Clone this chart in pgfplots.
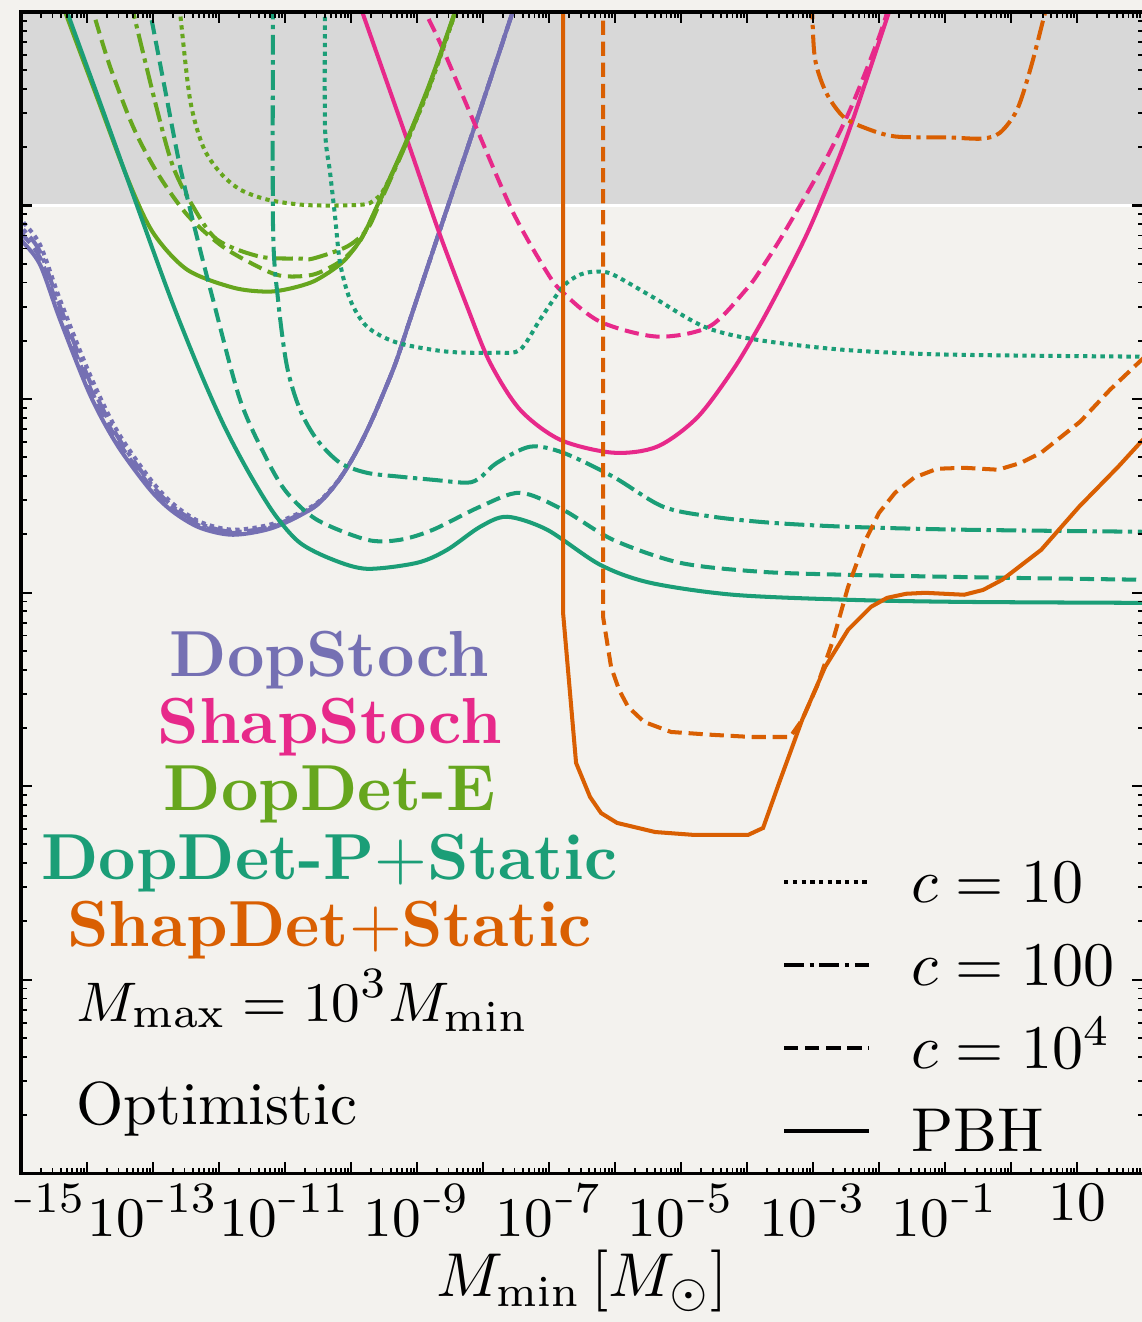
\documentclass[border=0pt]{standalone}
\usepackage{graphicx}
\usepackage{pgfplots}
\pgfplotsset{compat=1.18}
\usepackage{pgfplotstable}
\usetikzlibrary{backgrounds}

\definecolor{cpurple}{HTML}{7570B3}
\definecolor{cpink}{HTML}{E7298A}
\definecolor{cgreen}{HTML}{66A61E}
\definecolor{cteal}{HTML}{1B9E77}
\definecolor{corange}{HTML}{D95F02}
\definecolor{bgpaper}{HTML}{F3F2EE}
\definecolor{band}{HTML}{D8D8D8}

% narrow minus for the exponent of the tick labels
\newcommand{\nm}{\mathord{\scalebox{0.55}[1]{$\scriptstyle-$}}}

\tikzset{
  pbh/.style={solid},
  cten/.style={dash pattern=on 0.7pt off 0.7pt},
  chun/.style={dash pattern=on 3.2pt off 0.9pt on 0.7pt off 0.9pt},
  cfour/.style={dash pattern=on 2.3pt off 1.1pt},
}

% all tables: lx = log10(M_min), ly = log10(bound)
% DopStoch
\pgfplotstableread[row sep=\\]{
lx ly\\
-15.2 -0.086\\ -15.000 -0.176\\ -14.712 -0.305\\ -14.409 -0.589\\ -13.955 -0.977\\
-13.545 -1.236\\ -13.045 -1.468\\ -12.697 -1.582\\ -12.288 -1.665\\ -11.788 -1.701\\
-11.182 -1.665\\ -10.576 -1.562\\ -10.273 -1.458\\ -10.061 -1.355\\ -9.864 -1.236\\
-9.682 -1.107\\ -9.500 -0.962\\ -9.318 -0.807\\ -9.106 -0.589\\ -8.682 -0.155\\
-8.091 0.445\\ -7.439 1.117\\
}\tPurA
\pgfplotstableread[row sep=\\]{
lx ly\\
-15.2 -0.050\\ -15.000 -0.140\\ -14.712 -0.269\\ -14.409 -0.553\\ -13.955 -0.941\\
-13.545 -1.210\\ -13.045 -1.448\\ -12.697 -1.567\\ -12.288 -1.655\\ -11.788 -1.691\\
-11.182 -1.660\\ -10.576 -1.562\\ -10.273 -1.458\\ -10.061 -1.355\\ -9.864 -1.236\\
-9.682 -1.107\\ -9.500 -0.962\\ -9.318 -0.807\\ -9.106 -0.589\\ -8.682 -0.155\\
-8.091 0.445\\ -7.439 1.117\\
}\tPurB
\pgfplotstableread[row sep=\\]{
lx ly\\
-15.2 -0.020\\ -15.000 -0.109\\ -14.712 -0.238\\ -14.409 -0.522\\ -13.955 -0.910\\
-13.545 -1.189\\ -13.045 -1.432\\ -12.697 -1.556\\ -12.288 -1.644\\ -11.788 -1.686\\
-11.182 -1.655\\ -10.576 -1.556\\ -10.273 -1.458\\ -10.061 -1.355\\ -9.864 -1.236\\
-9.682 -1.107\\ -9.500 -0.962\\ -9.318 -0.807\\ -9.106 -0.589\\ -8.682 -0.155\\
-8.091 0.445\\ -7.439 1.117\\
}\tPurC
\pgfplotstableread[row sep=\\]{
lx ly\\
-15.2 0.020\\ -15.000 -0.072\\ -14.712 -0.202\\ -14.409 -0.486\\ -13.955 -0.874\\
-13.545 -1.163\\ -13.045 -1.412\\ -12.697 -1.541\\ -12.288 -1.634\\ -11.788 -1.675\\
-11.182 -1.644\\ -10.576 -1.551\\ -10.273 -1.453\\ -10.061 -1.355\\ -9.864 -1.236\\
-9.682 -1.107\\ -9.500 -0.962\\ -9.318 -0.807\\ -9.106 -0.589\\ -8.682 -0.155\\
-8.091 0.445\\ -7.439 1.117\\
}\tPurD
% ShapStoch
\pgfplotstableread[row sep=\\]{
lx ly\\
-9.894 1.065\\ -9.833 1.003\\ -9.152 0.341\\ -8.682 -0.124\\ -8.242 -0.522\\
-7.894 -0.812\\ -7.439 -1.055\\ -6.833 -1.210\\ -6.030 -1.277\\ -5.364 -1.246\\
-4.758 -1.096\\ -4.212 -0.848\\ -3.803 -0.615\\ -3.439 -0.383\\ -3.076 -0.134\\
-2.742 0.134\\ -2.439 0.403\\ -1.848 1.003\\ -1.788 1.075\\
}\tPinA
\pgfplotstableread[row sep=\\]{
lx ly\\
-8.939 1.065\\ -8.879 1.003\\ -8.606 0.807\\ -8.091 0.393\\ -7.545 -0.036\\
-7.030 -0.346\\ -6.788 -0.450\\ -6.227 -0.600\\ -5.364 -0.677\\ -4.576 -0.626\\
-4.015 -0.434\\ -3.773 -0.321\\ -3.439 -0.140\\ -2.864 0.202\\ -2.439 0.496\\
-2.015 0.858\\ -1.833 1.050\\ -1.800 1.100\\
}\tPinB
% DopDet-E
\pgfplotstableread[row sep=\\]{
lx ly\\
-14.379 1.065\\ -14.333 1.003\\ -13.864 0.574\\ -13.379 0.134\\ -13.000 -0.140\\
-12.485 -0.331\\ -11.788 -0.424\\ -11.273 -0.445\\ -10.924 -0.429\\ -10.576 -0.393\\
-10.273 -0.331\\ -10.061 -0.269\\ -9.818 -0.155\\ -9.561 0.031\\ -9.152 0.341\\
-8.803 0.636\\ -8.424 1.003\\ -8.364 1.065\\
}\tGrnA
\pgfplotstableread[row sep=\\]{
lx ly\\
-13.955 1.065\\ -13.909 1.003\\ -13.652 0.719\\ -13.303 0.408\\ -12.939 0.171\\
-12.485 -0.047\\ -11.985 -0.202\\ -11.530 -0.295\\ -11.076 -0.362\\ -10.576 -0.357\\
-10.167 -0.290\\ -9.939 -0.217\\ -9.818 -0.155\\ -9.561 0.026\\ -9.152 0.336\\
-8.803 0.631\\ -8.424 0.998\\ -8.364 1.065\\
}\tGrnB
\pgfplotstableread[row sep=\\]{
lx ly\\
-13.348 1.065\\ -13.303 1.003\\ -12.939 0.496\\ -12.697 0.202\\ -12.394 -0.005\\
-12.030 -0.176\\ -11.379 -0.264\\ -10.773 -0.274\\ -10.576 -0.274\\ -10.061 -0.212\\
-9.758 -0.124\\ -9.561 0.016\\ -9.152 0.331\\ -8.803 0.626\\ -8.424 0.998\\
-8.364 1.065\\
}\tGrnC
\pgfplotstableread[row sep=\\]{
lx ly\\
-12.621 1.065\\ -12.591 0.998\\ -12.439 0.548\\ -12.242 0.305\\ -11.985 0.171\\
-11.682 0.083\\ -11.273 0.031\\ -10.773 0.005\\ -10.318 0.000\\ -9.818 0.005\\
-9.652 0.026\\ -9.485 0.093\\ -9.152 0.331\\ -8.803 0.620\\ -8.424 0.993\\
-8.364 1.065\\
}\tGrnD
% DopDet-P+Static
\pgfplotstableread[row sep=\\]{
lx ly\\
-14.348 1.065\\ -14.303 1.003\\ -13.803 0.533\\ -13.303 0.057\\ -12.742 -0.471\\
-12.288 -0.858\\ -11.909 -1.148\\ -11.530 -1.391\\ -11.152 -1.598\\ -10.773 -1.743\\
-10.273 -1.830\\ -9.758 -1.877\\ -9.000 -1.846\\ -8.545 -1.779\\ -8.045 -1.660\\
-7.636 -1.608\\ -7.030 -1.675\\ -6.227 -1.856\\ -5.470 -1.949\\ -4.212 -2.011\\
-2.470 -2.037\\ -0.712 -2.048\\ 2.106 -2.053\\
}\tTelA
\pgfplotstableread[row sep=\\]{
lx ly\\
-13.076 1.065\\ -13.045 1.003\\ -12.818 0.600\\ -12.591 0.202\\ -12.333 -0.165\\
-12.091 -0.486\\ -11.682 -1.003\\ -11.273 -1.313\\ -10.970 -1.484\\ -10.515 -1.624\\
-9.758 -1.727\\ -9.258 -1.727\\ -8.758 -1.675\\ -8.045 -1.556\\ -7.439 -1.484\\
-6.788 -1.572\\ -6.030 -1.727\\ -5.015 -1.846\\ -3.803 -1.892\\ -2.470 -1.908\\
-0.136 -1.923\\ 2.106 -1.934\\
}\tTelB
\pgfplotstableread[row sep=\\]{
lx ly\\
-11.182 1.065\\ -11.182 -0.109\\ -11.106 -0.486\\ -10.970 -0.832\\ -10.773 -1.055\\
-10.515 -1.210\\ -10.167 -1.329\\ -9.758 -1.381\\ -9.258 -1.401\\ -8.758 -1.417\\
-8.242 -1.432\\ -8.045 -1.406\\ -7.788 -1.329\\ -7.288 -1.246\\ -6.788 -1.277\\
-6.030 -1.401\\ -5.273 -1.556\\ -4.515 -1.608\\ -3.636 -1.639\\ -2.470 -1.660\\
-0.712 -1.675\\ 2.106 -1.686\\
}\tTelC
\pgfplotstableread[row sep=\\]{
lx ly\\
-10.394 1.065\\ -10.394 0.403\\ -10.318 0.171\\ -10.242 -0.057\\ -10.167 -0.295\\
-10.015 -0.486\\ -9.758 -0.626\\ -9.303 -0.708\\ -8.545 -0.755\\ -7.788 -0.760\\
-7.439 -0.745\\ -7.136 -0.589\\ -6.788 -0.419\\ -6.530 -0.357\\ -6.273 -0.341\\
-6.030 -0.357\\ -5.439 -0.471\\ -4.652 -0.626\\ -3.864 -0.693\\ -2.545 -0.745\\
-0.955 -0.770\\ 2.106 -0.781\\
}\tTelD
% ShapDet+Static
\pgfplotstableread[row sep=\\]{
lx ly\\
-6.788 1.065\\ -6.788 -2.104\\ -6.591 -2.880\\ -6.379 -3.056\\ -6.212 -3.139\\
-5.970 -3.190\\ -5.394 -3.237\\ -4.803 -3.252\\ -3.985 -3.252\\ -3.758 -3.216\\
-3.515 -2.983\\ -3.167 -2.658\\ -2.818 -2.384\\ -2.470 -2.192\\ -2.121 -2.073\\
-1.879 -2.027\\ -1.591 -2.006\\ -1.303 -2.001\\ -0.712 -2.011\\ -0.424 -1.986\\
-0.136 -1.934\\ 0.455 -1.779\\ 1.030 -1.556\\ 1.621 -1.350\\ 2.106 -1.169\\
}\tOrgA
\pgfplotstableread[row sep=\\]{
lx ly\\
-6.182 1.065\\ -6.182 -2.125\\ -6.061 -2.384\\ -5.939 -2.503\\ -5.803 -2.590\\
-5.561 -2.668\\ -5.152 -2.720\\ -4.515 -2.735\\ -3.924 -2.746\\ -3.348 -2.746\\
-3.167 -2.658\\ -2.939 -2.482\\ -2.697 -2.244\\ -2.470 -1.970\\ -2.227 -1.743\\
-2.000 -1.587\\ -1.758 -1.484\\ -1.470 -1.406\\ -1.121 -1.360\\ -0.712 -1.355\\
-0.197 -1.365\\ 0.152 -1.329\\ 0.455 -1.277\\ 1.045 -1.117\\ 1.500 -0.951\\
2.106 -0.755\\
}\tOrgB
\pgfplotstableread[row sep=\\]{
lx ly\\
-3.030 1.065\\ -3.015 0.998\\ -2.970 0.755\\ -2.803 0.584\\ -2.545 0.460\\
-2.227 0.403\\ -1.758 0.357\\ -0.955 0.352\\ -0.439 0.346\\ -0.167 0.377\\
0.091 0.496\\ 0.303 0.719\\ 0.515 0.998\\ 0.576 1.065\\
}\tOrgC

% one curve from a table of decimal logarithms
\newcommand{\curve}[2]{%
  \addplot[#1, line width=0.65pt, forget plot]
    table[x expr={10^(\thisrow{lx})}, y expr={10^(\thisrow{ly})}] {#2};}

\begin{document}
\begin{tikzpicture}
\begin{axis}[
  scale only axis, width=181.0pt, height=187.3pt,
  xmode=log, ymode=log,
  xmin=1e-15, xmax=1e2, ymin=1e-5, ymax=10,
  axis on top,
  xtick={1e-15,1e-14,1e-13,1e-12,1e-11,1e-10,1e-9,1e-8,1e-7,1e-6,1e-5,1e-4,1e-3,1e-2,1e-1,1,10,100},
  xticklabels={$\phantom{10}^{\nm15}$,{},$10^{\nm13}$,{},$10^{\nm11}$,{},$10^{\nm9}$,{},$10^{\nm7}$,{},$10^{\nm5}$,{},$10^{\nm3}$,{},$10^{\nm1}$,{},$10$,{}},
  ytick={1e-5,1e-4,1e-3,1e-2,1e-1,1,10},
  yticklabels={},
  tick align=inside,
  major tick length=1.8pt, minor tick length=0.9pt,
  every tick/.style={black, line width=0.35pt},
  every minor tick/.style={black, line width=0.3pt},
  axis line style={line width=0.5pt},
  tick label style={font=\fontsize{9.4}{11}\selectfont},
  xticklabel style={yshift=1.7pt},
  xlabel={$M_{\mathrm{min}}\,[M_\odot]$},
  xlabel style={font=\fontsize{10}{12}\selectfont, yshift=4.6pt},
  legend style={draw=none, fill=none, at={(0.678,0.284)}, anchor=north west,
    inner sep=0pt, outer sep=0pt, row sep=3.4pt,
    font=\fontsize{10}{12}\selectfont,
    nodes={inner sep=0pt, text height=9.5pt, text depth=0.5pt},
    /tikz/every odd column/.append style={column sep=6.5pt}},
  legend cell align=left,
  legend image code/.code={\draw[#1] (0pt,-1.2pt) -- (13.7pt,-1.2pt);},
]
% excluded region above unity
\addplot[fill=band, draw=none, forget plot] coordinates {(1e-16,1) (1e3,1) (1e3,10) (1e-16,10)} -- cycle;
\addplot[white, line width=0.45pt, forget plot] coordinates {(1e-16,1) (1e3,1)};

\curve{cpurple, cten, smooth}{\tPurD}
\curve{cpurple, chun, smooth}{\tPurC}
\curve{cpurple, cfour, smooth}{\tPurB}
\curve{cpurple, pbh, smooth}{\tPurA}

\curve{cpink, cfour, smooth}{\tPinB}
\curve{cpink, pbh, smooth}{\tPinA}

\curve{cgreen, cten, smooth}{\tGrnD}
\curve{cgreen, chun, smooth}{\tGrnC}
\curve{cgreen, cfour, smooth}{\tGrnB}
\curve{cgreen, pbh, smooth}{\tGrnA}

\curve{cteal, cten, smooth}{\tTelD}
\curve{cteal, chun, smooth}{\tTelC}
\curve{cteal, cfour, smooth}{\tTelB}
\curve{cteal, pbh, smooth}{\tTelA}

\curve{corange, chun, smooth}{\tOrgC}
\curve{corange, cfour}{\tOrgB}
\curve{corange, pbh}{\tOrgA}

\addlegendimage{black, line width=0.75pt, cten}
\addlegendentry{$c=10$}
\addlegendimage{black, line width=0.75pt, chun}
\addlegendentry{$c=100$}
\addlegendimage{black, line width=0.75pt, cfour}
\addlegendentry{$c=10^4$}
\addlegendimage{black, line width=0.75pt, pbh}
\addlegendentry{PBH}

\begin{scope}[font=\fontsize{10.5}{12}\selectfont\bfseries]
\node[anchor=base, text=cpurple] at (rel axis cs:0.275,0.428) {DopStoch};
\node[anchor=base, text=cpink] at (rel axis cs:0.275,0.370) {ShapStoch};
\node[anchor=base, text=cgreen] at (rel axis cs:0.275,0.312) {DopDet-E};
\node[anchor=base, text=cteal] at (rel axis cs:0.275,0.253) {DopDet-P$+$Static};
\node[anchor=base, text=corange] at (rel axis cs:0.275,0.195) {ShapDet$+$Static};
\end{scope}
\node[anchor=base west, inner sep=0pt, font=\fontsize{9.5}{12}\selectfont] at (rel axis cs:0.0485,0.131) {$M_{\mathrm{max}}=10^3M_{\mathrm{min}}$};
\node[anchor=base west, inner sep=0pt, font=\fontsize{9.8}{12}\selectfont] at (rel axis cs:0.0485,0.042) {Optimistic};
\end{axis}
\pgfresetboundingbox
\path[use as bounding box] ([xshift=-3.39pt,yshift=-24pt]current axis.south west) rectangle ([xshift=-0.2pt,yshift=1.94pt]current axis.north east);
\begin{scope}[on background layer]
\fill[bgpaper] ([xshift=-3.39pt,yshift=-24pt]current axis.south west) rectangle ([xshift=-0.2pt,yshift=1.94pt]current axis.north east);
\end{scope}
\end{tikzpicture}
\end{document}
